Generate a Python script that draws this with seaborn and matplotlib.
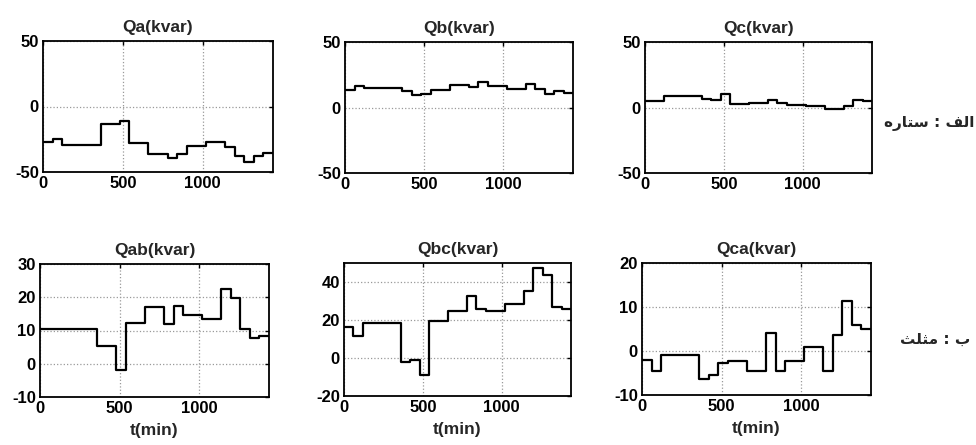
import numpy as np
import pandas as pd
import matplotlib
matplotlib.use("Agg")
import matplotlib.pyplot as plt
import seaborn as sns

# hourly step values (24 hours, minutes 0..1440)
Qa = [-27, -25, -29.5, -29.5, -29.5, -29.5, -13, -13, -11, -28, -28, -36,
      -36, -39, -36.5, -30, -30, -27, -27, -31, -37.5, -42, -38, -35.5]
Qb = [13, 16.3, 15, 15, 15, 15, 12.7, 9.2, 10.2, 13.2, 13.2, 17,
      17, 15.8, 19.6, 16.3, 16.3, 14, 14, 18.3, 14, 10, 12.7, 11.2]
Qc = [4.6, 4.6, 9, 9, 9, 9, 6.6, 5.4, 10.2, 2.8, 2.8, 3.8,
      3.8, 5.9, 3.3, 2, 2, 1.3, 1.3, -1.3, -1.3, 1.3, 5.6, 4.6]
Qab = [10.6, 10.6, 10.6, 10.6, 10.6, 10.6, 5.4, 5.4, -1.9, 12.2, 12.2, 17,
       17, 12.1, 17.5, 14.6, 14.6, 13.6, 13.6, 22.5, 19.8, 10.6, 7.6, 8.2]
Qbc = [16.5, 11.5, 18.3, 18.3, 18.3, 18.3, -2.1, -1.2, -9.2, 19.7, 19.7, 24.5,
       24.5, 32.8, 25.9, 24.8, 24.8, 28.4, 28.4, 35.5, 47.2, 43.6, 27.1, 25.9]
Qca = [-2.1, -4.6, -0.9, -0.9, -0.9, -0.9, -6.3, -5.5, -2.8, -2.3, -2.3, -4.6,
       -4.6, 4.2, -4.6, -2.2, -2.2, 0.8, 0.8, -4.6, 3.7, 11.3, 6, 5]
hours_min = list(range(0, 1441, 60))

titles = ["Qa(kvar)", "Qb(kvar)", "Qc(kvar)", "Qab(kvar)", "Qbc(kvar)", "Qca(kvar)"]
series = [Qa, Qb, Qc, Qab, Qbc, Qca]
ylims = [(-50, 50), (-50, 50), (-50, 50), (-10, 30), (-20, 50), (-10, 20)]
yticks = [[-50, 0, 50], [-50, 0, 50], [-50, 0, 50],
          [-10, 0, 10, 20, 30], [-20, 0, 20, 40], [-10, 0, 10, 20]]
xticks = [0, 500, 1000]
xlabel = "t(min)"
# Persian labels (presentation forms in visual order)
row_labels = ["\uFEE9\uFEAD\uFE8E\uFE98\uFEB3 : \uFED2\uFEDF\uFE8D",
              "\uFE9A\uFEE0\uFE9C\uFEE3 : \uFE8F"]

sns.set_theme(style="white")
plt.rcParams["font.family"] = ["Liberation Sans", "DejaVu Sans"]
plt.rcParams["font.weight"] = "bold"

fig = plt.figure(figsize=(9.76, 4.45), dpi=100)
W, H = 976, 445
boxes = [(43, 41, 273, 172), (345, 42, 573, 173), (645, 42, 872, 173),
         (40, 264, 269, 397), (344, 263, 571, 396), (642, 263, 871, 395)]

for i, (s, t, yl, yt, b) in enumerate(zip(series, titles, ylims, yticks, boxes)):
    l, tp, r, bt = b
    ax = fig.add_axes([l / W, 1 - bt / H, (r - l) / W, (bt - tp) / H])
    df = pd.DataFrame({"t": hours_min, "q": list(s) + [s[-1]]})
    sns.lineplot(data=df, x="t", y="q", drawstyle="steps-post", color="black",
                 linewidth=1.6, ax=ax)
    ax.set_xlim(0, 1440)
    ax.set_ylim(*yl)
    ax.set_xticks(xticks)
    ax.set_yticks(yt)
    ax.set_xticklabels([str(v) for v in xticks], fontsize=12, fontweight="bold")
    ax.set_yticklabels([str(v) for v in yt], fontsize=12, fontweight="bold")
    ax.set_title(t, fontsize=12.5, fontweight="bold", pad=6.5)
    ax.set_ylabel("")
    ax.set_xlabel(xlabel if i >= 3 else "", fontsize=12.5, fontweight="bold", labelpad=5)
    ax.grid(True, linestyle=":", color="#999999", linewidth=0.9)
    ax.tick_params(direction="in", length=3, width=1, top=True, right=True,
                   pad=3, colors="black")
    for sp in ax.spines.values():
        sp.set_color("black")
        sp.set_linewidth(1.3)

fig.text(974 / W, 1 - 124 / H, row_labels[0], ha="right", va="center",
         fontsize=11, fontweight="bold", family=["DejaVu Sans"])
fig.text(970 / W, 1 - 339 / H, row_labels[1], ha="right", va="center",
         fontsize=11, fontweight="bold", family=["DejaVu Sans"])

fig.savefig("out.png", dpi=100)
